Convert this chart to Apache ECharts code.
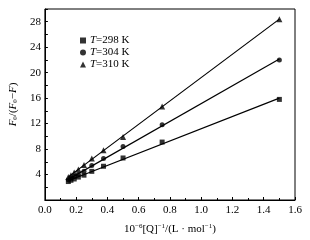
<!DOCTYPE html>
<html><head><meta charset="utf-8">
<script src="https://cdn.jsdelivr.net/npm/echarts@6/dist/echarts.min.js"></script>
<style>html,body{margin:0;padding:0;background:#fff}#c{width:310px;height:240px}</style>
</head><body><div id="c"></div>
<script>
const xInv = [1.5, 0.75, 0.5, 0.375, 0.3, 0.25, 0.214, 0.1875, 0.1667, 0.15];
const y298 = [15.8, 9.1, 6.6, 5.3, 4.5, 3.9, 3.6, 3.3, 3.1, 2.9];
const y304 = [22.0, 11.8, 8.4, 6.5, 5.4, 4.5, 4.0, 3.7, 3.4, 3.2];
const y310 = [28.4, 14.7, 9.9, 7.8, 6.5, 5.5, 4.8, 4.3, 3.9, 3.6];
const seriesNames = ['298', '304', '310'];
const xTicks = ['0.0','0.2','0.4','0.6','0.8','1.0','1.2','1.4','1.6'];
const yTicks = [4, 8, 12, 16, 20, 24, 28];

function fit(xs, ys) {
  const n = xs.length;
  let sx=0, sy=0, sxx=0, sxy=0;
  for (let i=0;i<n;i++){sx+=xs[i];sy+=ys[i];sxx+=xs[i]*xs[i];sxy+=xs[i]*ys[i];}
  const b=(n*sxy-sx*sy)/(n*sxx-sx*sx), a=(sy-b*sx)/n;
  const x0=Math.min(...xs), x1=Math.max(...xs);
  return [[x0,a+b*x0],[x1,a+b*x1]];
}
const sets = [y298, y304, y310];
const symbols = ['rect', 'circle', 'triangle'];
const sizes = [5, 5, 6];
const font = 'Liberation Serif, Times New Roman, serif';
const series = [];
sets.forEach((ys, k) => {
  series.push({type:'line', data: fit(xInv, ys), showSymbol:false, symbol:'none',
    lineStyle:{color:'#000', width:1.2}, silent:true, z:2});
});
sets.forEach((ys, k) => {
  series.push({type:'scatter', name: seriesNames[k], data: xInv.map((x,i)=>[x, ys[i]]),
    symbol: symbols[k], symbolSize: sizes[k], itemStyle:{color:'#000'}, z:3});
});
const chart = echarts.init(document.getElementById('c'), null, {renderer:'canvas'});
chart.setOption({
  animation:false,
  backgroundColor:'#fff',
  grid:{left:35, right:15, top:9, bottom:40, show:true, borderColor:'#000', borderWidth:1},
  legend:{
    data: seriesNames, orient:'vertical', left:75, top:30, itemGap:1,
    itemWidth:6, itemHeight:6,
    formatter: n => '{i|T}{r|=' + n + ' K}',
    textStyle:{padding:[0,0,0,-1], rich:{i:{fontFamily:font, fontStyle:'italic', fontSize:11, color:'#000'},
                     r:{fontFamily:font, fontSize:11, color:'#000'}}}
  },
  xAxis:{type:'value', min:0, max:1.6, interval:0.2,
    axisLine:{lineStyle:{color:'#000'}},
    axisTick:{inside:true, length:3, lineStyle:{color:'#000'}},
    minorTick:{show:true, splitNumber:2, length:2, lineStyle:{color:'#000'}},
    splitLine:{show:false},
    axisLabel:{color:'#000', fontFamily:font, fontSize:11, margin:5,
      formatter: v => xTicks.find(t => Math.abs(parseFloat(t)-v)<1e-6) || ''},
    name:'10{s|−6}[Q]{s|−1}/(L · mol{s|−1})', nameLocation:'middle', nameGap:23,
    nameTextStyle:{color:'#000', fontFamily:font, fontSize:11,
      rich:{s:{fontFamily:font, fontSize:7, verticalAlign:'top', padding:[0,0,5,0], color:'#000'}}}
  },
  yAxis:{type:'value', min:0, max:30, interval:2,
    axisLine:{lineStyle:{color:'#000'}},
    axisTick:{inside:true, length:3, lineStyle:{color:'#000'}},
    splitLine:{show:false},
    axisLabel:{color:'#000', fontFamily:font, fontSize:11, margin:4,
      formatter: v => yTicks.includes(v) ? String(v) : ''},
    name:'{i|F}{s|0}/({i|F}{s|0}−{i|F})', nameLocation:'middle', nameGap:22, nameRotate:90,
    nameTextStyle:{color:'#000', fontFamily:font, fontSize:11,
      rich:{i:{fontFamily:font, fontStyle:'italic', fontSize:11, color:'#000'},
            s:{fontFamily:font, fontSize:7, verticalAlign:'bottom', color:'#000'}}}
  },
  series
});
</script></body></html>
